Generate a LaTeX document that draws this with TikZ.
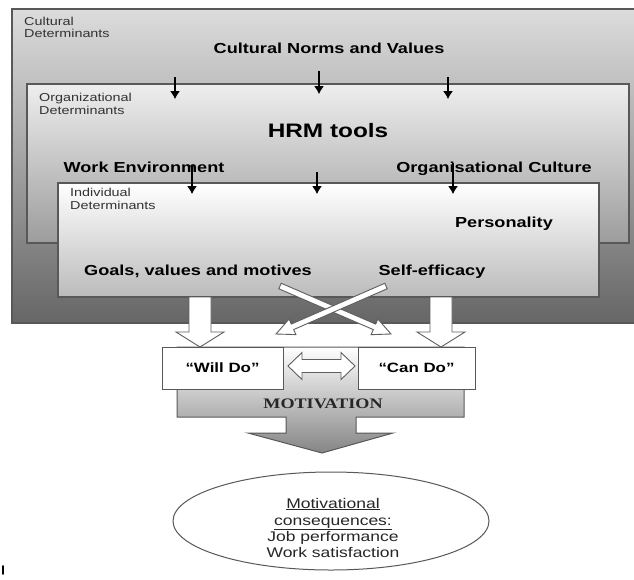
\documentclass[tikz,border=0pt]{standalone}
\usepackage{fontspec}
\setmainfont{Liberation Sans}[FakeStretch=1.25]
\newfontfamily\motserif{Liberation Serif}[FakeStretch=1.25]
\usetikzlibrary{arrows.meta,calc,shapes.geometric}
\definecolor{outerTop}{HTML}{DCDCDC}
\definecolor{outerBot}{HTML}{666666}
\definecolor{orgTop}{HTML}{EEEEEE}
\definecolor{orgBot}{HTML}{9C9C9C}
\definecolor{indTop}{HTML}{FFFFFF}
\definecolor{indBot}{HTML}{BBBBBB}
\definecolor{motTop}{HTML}{FFFFFF}
\definecolor{motBot}{HTML}{858585}
\definecolor{boxgray}{HTML}{585858}
\definecolor{arrgray}{HTML}{5E5E5E}
\definecolor{labelgray}{HTML}{333333}
\tikzset{
  boxline/.style={draw=boxgray, line width=1.2pt},
  smallarr/.style={-{Latex[length=8pt,width=10pt]}, line width=1.1pt, black},
  hollow/.style={fill=white, draw=arrgray, line width=0.9pt, line join=miter},
  smalllabel/.style={font=\fontsize{11.5}{12.5}\selectfont, text=labelgray, inner sep=0pt, anchor=base west},
  heading/.style={font=\bfseries\fontsize{14.5}{16}\selectfont, inner sep=0pt, anchor=base},
  dobox/.style={draw=boxgray, line width=1pt, fill=white, inner sep=0pt,
    font=\bfseries\fontsize{13.5}{15}\selectfont},
  elltext/.style={font=\fontsize{14}{16}\selectfont, inner sep=0pt, anchor=base, text=black!85},
}
\newcommand{\hollowarrow}[2]{%
  \path (#1) coordinate (hs) (#2) coordinate (he);
  \path ($(he)!18pt!(hs)$) coordinate (hb);
  \draw[hollow] ($(hs)!3pt!90:(he)$) -- ($(hb)!3pt!-90:(hs)$) -- ($(hb)!8.5pt!-90:(hs)$)
    -- (he) -- ($(hb)!8.5pt!90:(hs)$) -- ($(hb)!3pt!90:(hs)$) -- ($(hs)!3pt!-90:(he)$) -- cycle;
}
\begin{document}
\begin{tikzpicture}[x=1pt,y=-1pt]
\useasboundingbox (0,0) rectangle (634,579);
\clip (0,0) rectangle (634,579);
\fill[white] (0,0) rectangle (634,579);

% Cultural determinants (outer box)
\path[boxline, top color=outerTop, bottom color=outerBot] (12,9) rectangle (650,323);
\node[smalllabel] (cult1) at (24,25) {Cultural};
\node[smalllabel] (cult2) at (24,37) {Determinants};
\node[heading] (norms) at (329,53) {Cultural Norms and Values};

% Organizational determinants
\path[boxline, top color=orgTop, bottom color=orgBot] (27,84) rectangle (629,243);
\node[smalllabel] (org1) at (39,101) {Organizational};
\node[smalllabel] (org2) at (39,114) {Determinants};
\node[font=\bfseries\fontsize{19.5}{22}\selectfont, inner sep=0pt, anchor=base] (hrm) at (328,137) {HRM tools};
\node[heading] (workenv) at (144,172) {Work Environment};
\node[heading] (orgcult) at (494,172) {Organisational Culture};

\coordinate (a1s) at (175,77);  \coordinate (a1e) at (175,99);
\coordinate (a2s) at (319,71);  \coordinate (a2e) at (319,94);
\coordinate (a3s) at (448,77);  \coordinate (a3e) at (448,99);
\draw[smallarr] (a1s) -- (a1e);
\draw[smallarr] (a2s) -- (a2e);
\draw[smallarr] (a3s) -- (a3e);

% Individual determinants
\path[boxline, top color=indTop, bottom color=indBot] (58,183) rectangle (599,297);
\node[smalllabel] (ind1) at (70,196) {Individual};
\node[smalllabel] (ind2) at (70,209) {Determinants};
\node[heading] (pers) at (504,227) {Personality};
\node[heading] (goals) at (198,275) {Goals, values and motives};
\node[heading] (selfeff) at (432,275) {Self-efficacy};

\coordinate (b1s) at (192,165); \coordinate (b1e) at (192,194);
\coordinate (b2s) at (317,172); \coordinate (b2e) at (317,194);
\coordinate (b3s) at (453,163); \coordinate (b3e) at (453,194);
\draw[smallarr] (b1s) -- (b1e);
\draw[smallarr] (b2s) -- (b2e);
\draw[smallarr] (b3s) -- (b3e);

% Motivation shape
\path[draw=boxgray, line width=1pt, top color=motTop, bottom color=motBot]
  (177,347) -- (464,347) -- (464,417) -- (356,417) -- (356,433) -- (393,433)
  -- (322,453) -- (248,433) -- (286,433) -- (286,417) -- (177,417) -- cycle;
\node[font=\motserif\bfseries\fontsize{14.5}{16}\selectfont, inner sep=0pt, text=black!85] (motiv) at (323,404) {MOTIVATION};

% Will Do / Can Do
\node[dobox, minimum width=121pt, minimum height=42pt] (will) at (222.5,368) {“Will Do”};
\node[dobox, minimum width=117pt, minimum height=42pt] (can) at (416.5,368) {“Can Do”};

% double hollow arrow
\draw[hollow] (288,366) -- (302,352.5) -- (302,359.5) -- (341,359.5) -- (341,352.5) -- (355,366)
  -- (341,379.5) -- (341,372.5) -- (302,372.5) -- (302,379.5) -- cycle;

% big hollow down arrows
\draw[hollow] (189,297) -- (211,297) -- (211,332) -- (224,332) -- (200,347) -- (176,332) -- (189,332) -- cycle;
\draw[hollow] (430,297) -- (452,297) -- (452,332) -- (465,332) -- (441,347) -- (417,332) -- (430,332) -- cycle;

% crossing hollow arrows
\coordinate (goalsOut) at (280,286); \coordinate (canIn) at (391,334);
\coordinate (selfOut) at (386,286);  \coordinate (willIn) at (276,334);
\hollowarrow{goalsOut}{canIn}
\hollowarrow{selfOut}{willIn}

% consequences ellipse
\node[ellipse, draw=boxgray, line width=1pt, minimum width=316pt, minimum height=98pt] (cons) at (331,521) {};
\node[elltext] (c1) at (333,508) {\underline{Motivational}};
\node[elltext] (c2) at (333,525) {\underline{consequences:}};
\node[elltext] (c3) at (333,541) {Job performance};
\node[elltext] (c4) at (333,557) {Work satisfaction};

% stray mark
\coordinate (m1) at (3,566); \coordinate (m2) at (3,574);
\draw[line width=1.6pt, line cap=round] (m1) -- (m2);
\end{tikzpicture}
\end{document}
